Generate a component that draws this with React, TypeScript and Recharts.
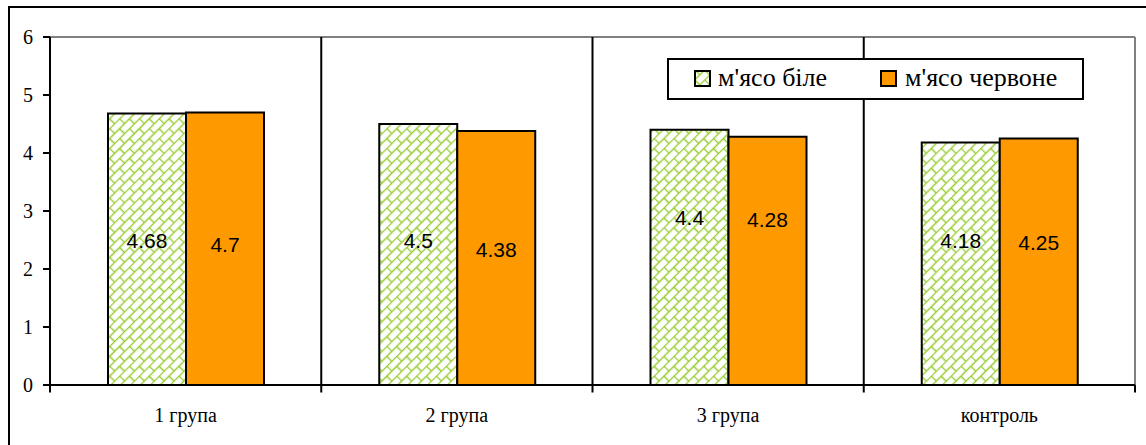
import React from 'react';
import { BarChart, Bar, XAxis, YAxis, ReferenceLine, LabelList } from 'recharts';

const groups = ['1 група', '2 група', '3 група', 'контроль'];
const whiteMeat = [4.68, 4.5, 4.4, 4.18];
const redMeat = [4.7, 4.38, 4.28, 4.25];
const yTicks = [0, 1, 2, 3, 4, 5, 6];

// hand-placed label nudges, like in the original sheet
const whiteLabelDy = [-9, -14, -40, -23];
const redLabelDy = [-4, -8, -41, -19];

const data = groups.map((group, i) => ({ group, white: whiteMeat[i], red: redMeat[i] }));

const ORANGE = '#FF9900';
const BRICK = '#99CC33';
const SERIF = '"Liberation Serif", "Times New Roman", serif';
const SANS = '"Liberation Sans", Arial, sans-serif';
const TICK_DROP = -0.13; // boundary tick marks hang a little below the axis
const Y_TOP = 6;

// excel-ish "diagonal brick" fill
const BrickPattern = ({ id }: { id: string }) => (
  <pattern id={id} width="14" height="14" patternUnits="userSpaceOnUse" patternTransform="rotate(-45)">
    <rect width="14" height="14" fill="#fff" />
    <path d="M0 0.5 H14 M0 7.5 H14 M0.5 0.5 V7.5 M7.5 7.5 V14.5" stroke={BRICK} strokeWidth="1.5" fill="none" />
  </pattern>
);

const makeLabel = (shifts: number[]) => (props: any) => {
  const { x, y, width, height, value, index } = props;
  return (
    <text
      x={x + width / 2}
      y={y + height / 2 + shifts[index]}
      textAnchor="middle"
      dominantBaseline="central"
      fontFamily={SANS}
      fontSize={21}
      fill="#000"
    >
      {value}
    </text>
  );
};

const LegendBox = () => (
  <div
    style={{
      position: 'absolute',
      left: 667,
      top: 58,
      width: 417,
      height: 42,
      boxSizing: 'border-box',
      border: '2px solid #000',
      background: '#fff',
      fontFamily: SERIF,
      fontSize: 26,
      color: '#000',
    }}
  >
    <svg width={17} height={17} style={{ position: 'absolute', left: 25, top: 10 }}>
      <defs>
        <BrickPattern id="brickLegend" />
      </defs>
      <rect x={1} y={1} width={15} height={15} fill="url(#brickLegend)" stroke="#000" strokeWidth={2} />
    </svg>
    <span style={{ position: 'absolute', left: 49, top: 3, lineHeight: '30px', whiteSpace: 'nowrap' }}>м'ясо біле</span>
    <svg width={17} height={17} style={{ position: 'absolute', left: 211, top: 10 }}>
      <rect x={1} y={1} width={15} height={15} fill={ORANGE} stroke="#000" strokeWidth={2} />
    </svg>
    <span style={{ position: 'absolute', left: 236, top: 3, lineHeight: '30px', whiteSpace: 'nowrap' }}>м'ясо червоне</span>
  </div>
);

export default function App() {
  const last = groups[groups.length - 1];
  return (
    <div style={{ position: 'absolute', left: 0, top: 0, width: 1146, height: 445, background: '#fff', overflow: 'hidden' }}>
      <div
        style={{
          position: 'absolute',
          left: 8,
          top: 6,
          width: 1138,
          height: 439,
          boxSizing: 'border-box',
          borderLeft: '2px solid #000',
          borderTop: '2px solid #000',
        }}
      />
      <div style={{ position: 'absolute', left: 0, top: 0 }}>
        <BarChart
          width={1146}
          height={445}
          data={data}
          margin={{ top: 37, right: 11, left: 10, bottom: 30 }}
          barCategoryGap={58}
          barGap={0}
        >
          <defs>
            <BrickPattern id="brickFill" />
          </defs>
          <XAxis
            dataKey="group"
            height={30}
            axisLine={{ stroke: '#000', strokeWidth: 2 }}
            tickLine={false}
            tickMargin={17}
            tick={{ fill: '#000', fontFamily: SERIF, fontSize: 20 }}
          />
          <YAxis
            domain={[0, Y_TOP]}
            ticks={yTicks}
            width={40}
            tickSize={7}
            tickMargin={10}
            axisLine={{ stroke: '#000', strokeWidth: 2 }}
            tickLine={{ stroke: '#000', strokeWidth: 2 }}
            tick={{ fill: '#000', fontFamily: SERIF, fontSize: 20 }}
          />
          <ReferenceLine y={Y_TOP} stroke="#808080" strokeWidth={2} />
          <ReferenceLine
            segment={[{ x: last, y: 0 }, { x: last, y: Y_TOP }]}
            position="end"
            stroke="#808080"
            strokeWidth={2}
          />
          <ReferenceLine
            segment={[{ x: last, y: TICK_DROP }, { x: last, y: 0 }]}
            position="end"
            ifOverflow="visible"
            stroke="#000"
            strokeWidth={2}
          />
          {groups.map((g, i) => (
            <ReferenceLine
              key={g}
              segment={[{ x: g, y: TICK_DROP }, { x: g, y: i === 0 ? 0 : Y_TOP }]}
              position="start"
              ifOverflow="visible"
              stroke="#000"
              strokeWidth={2}
            />
          ))}
          <Bar dataKey="white" name="м'ясо біле" fill="url(#brickFill)" stroke="#000" strokeWidth={2} isAnimationActive={false}>
            <LabelList dataKey="white" content={makeLabel(whiteLabelDy)} />
          </Bar>
          <Bar dataKey="red" name="м'ясо червоне" fill={ORANGE} stroke="#000" strokeWidth={2} isAnimationActive={false}>
            <LabelList dataKey="red" content={makeLabel(redLabelDy)} />
          </Bar>
        </BarChart>
      </div>
      <LegendBox />
    </div>
  );
}
